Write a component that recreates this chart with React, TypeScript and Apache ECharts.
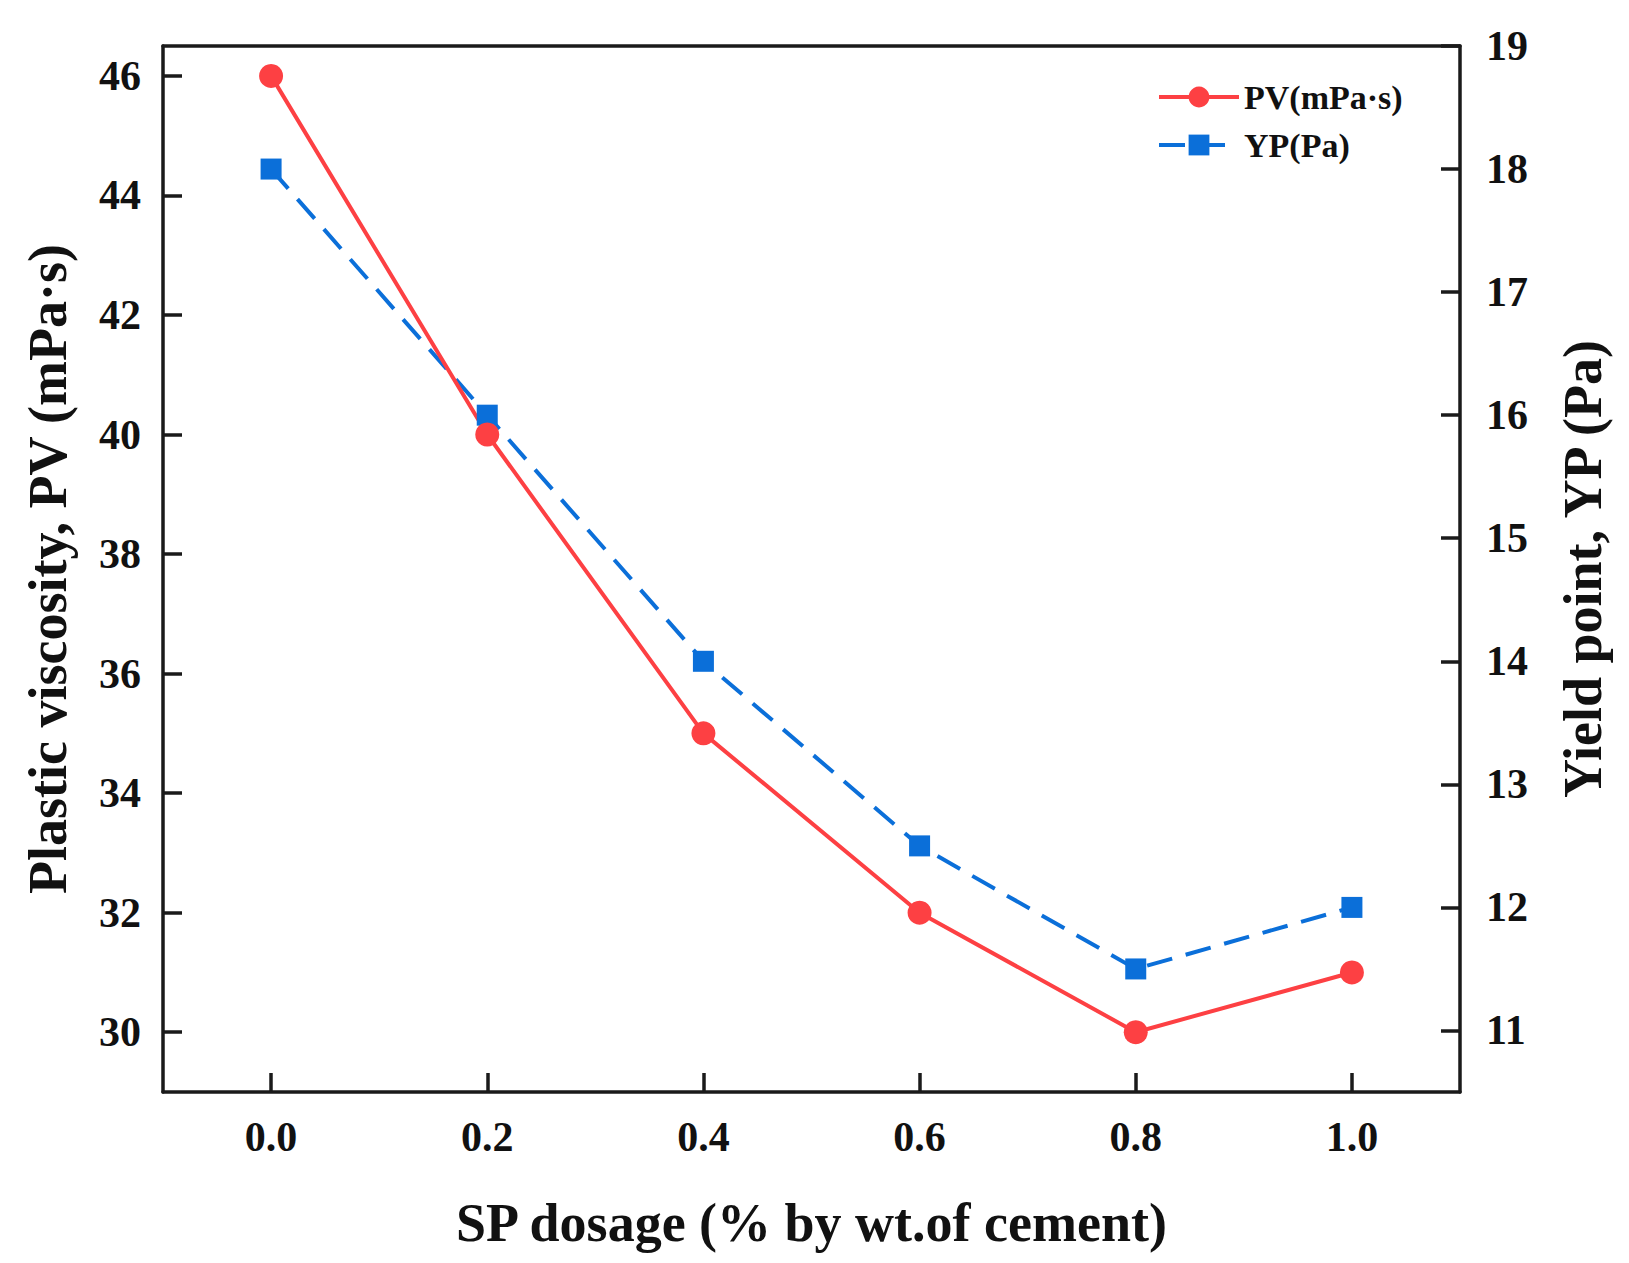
import React, { useEffect, useRef } from "react";
import * as echarts from "echarts";

const dosage = [0.0, 0.2, 0.4, 0.6, 0.8, 1.0];
const pvValues = [46, 40, 35, 32, 30, 31];
const ypValues = [18, 16, 14, 12.5, 11.5, 12];
const xTicks = [0, 0.2, 0.4, 0.6, 0.8, 1.0];
const pvTicks = [30, 32, 34, 36, 38, 40, 42, 44, 46];
const ypTicks = [11, 12, 13, 14, 15, 16, 17, 18, 19];

const X_MIN = -0.1;
const X_MAX = 1.1;
const PV_MIN = 29;
const PV_MAX = 46.5;
const YP_MIN = 10.5;
const YP_MAX = 19;

const FONT = "'Liberation Serif', 'Times New Roman', serif";
const AXIS_COLOR = "#1a1a1a";
const RED = "#fd4043";
const BLUE = "#0b6fd9";

export default function App() {
  const chartRef = useRef<HTMLDivElement>(null);

  useEffect(() => {
    if (!chartRef.current) return;
    const chart = echarts.init(chartRef.current, undefined, { renderer: "svg" });

    const axisLine = { show: true, onZero: false, lineStyle: { color: AXIS_COLOR, width: 3.5 } };
    const axisTick = { show: true, inside: true, length: 19, lineStyle: { color: AXIS_COLOR, width: 3.5 } };
    const labelStyle = { fontFamily: FONT, fontWeight: "bold" as const, fontSize: 42, color: "#111" };
    const nameStyle = { fontFamily: FONT, fontWeight: "bold" as const, fontSize: 54, color: "#111" };

    const option = {
      animation: false,
      backgroundColor: "#fff",
      grid: { left: 163, right: 169, top: 46, bottom: 171 },
      legend: {
        orient: "vertical",
        left: 1152,
        top: 75,
        itemWidth: 80,
        itemHeight: 26,
        itemGap: 14,
        data: ["PV(mPa·s)", "YP(Pa)"],
        lineStyle: { width: 4 },
        textStyle: { fontFamily: FONT, fontWeight: "bold", fontSize: 34, color: "#111" },
      },
      xAxis: [
        {
          type: "value",
          position: "bottom",
          min: X_MIN,
          max: X_MAX,
          name: "SP dosage (% by wt.of cement)",
          nameLocation: "middle",
          nameGap: 104,
          nameTextStyle: nameStyle,
          splitLine: { show: false },
          axisLine,
          axisTick: { ...axisTick, customValues: xTicks },
          axisLabel: {
            ...labelStyle,
            margin: 24,
            customValues: xTicks,
            formatter: (v: number) => v.toFixed(1),
          },
        },
        {
          // top frame line
          type: "value",
          position: "top",
          min: X_MIN,
          max: X_MAX,
          splitLine: { show: false },
          axisLine,
          axisTick: { show: false },
          axisLabel: { show: false },
        },
      ],
      yAxis: [
        {
          type: "value",
          position: "left",
          min: PV_MIN,
          max: PV_MAX,
          name: "Plastic viscosity, PV (mPa·s)",
          nameLocation: "middle",
          nameGap: 88,
          nameTextStyle: nameStyle,
          splitLine: { show: false },
          axisLine,
          axisTick: { ...axisTick, customValues: pvTicks },
          axisLabel: { ...labelStyle, margin: 22, customValues: pvTicks },
        },
        {
          type: "value",
          position: "right",
          min: YP_MIN,
          max: YP_MAX,
          name: "Yield point, YP (Pa)",
          nameLocation: "middle",
          nameGap: 96,
          nameTextStyle: nameStyle,
          splitLine: { show: false },
          axisLine,
          axisTick: { ...axisTick, customValues: ypTicks },
          axisLabel: { ...labelStyle, margin: 26, customValues: ypTicks },
        },
      ],
      series: [
        {
          name: "YP(Pa)",
          type: "line",
          yAxisIndex: 1,
          data: dosage.map((d, i) => [d, ypValues[i]]),
          symbol: "rect",
          symbolSize: 21,
          itemStyle: { color: BLUE },
          lineStyle: { color: BLUE, width: 4, type: [26, 14] },
        },
        {
          name: "PV(mPa·s)",
          type: "line",
          yAxisIndex: 0,
          data: dosage.map((d, i) => [d, pvValues[i]]),
          symbol: "circle",
          symbolSize: 24,
          itemStyle: { color: RED },
          lineStyle: { color: RED, width: 4 },
        },
      ],
    };

    chart.setOption(option);
    return () => {
      chart.dispose();
    };
  }, []);

  return (
    <div
      ref={chartRef}
      style={{ position: "absolute", left: 0, top: 0, width: 1629, height: 1263 }}
    />
  );
}
